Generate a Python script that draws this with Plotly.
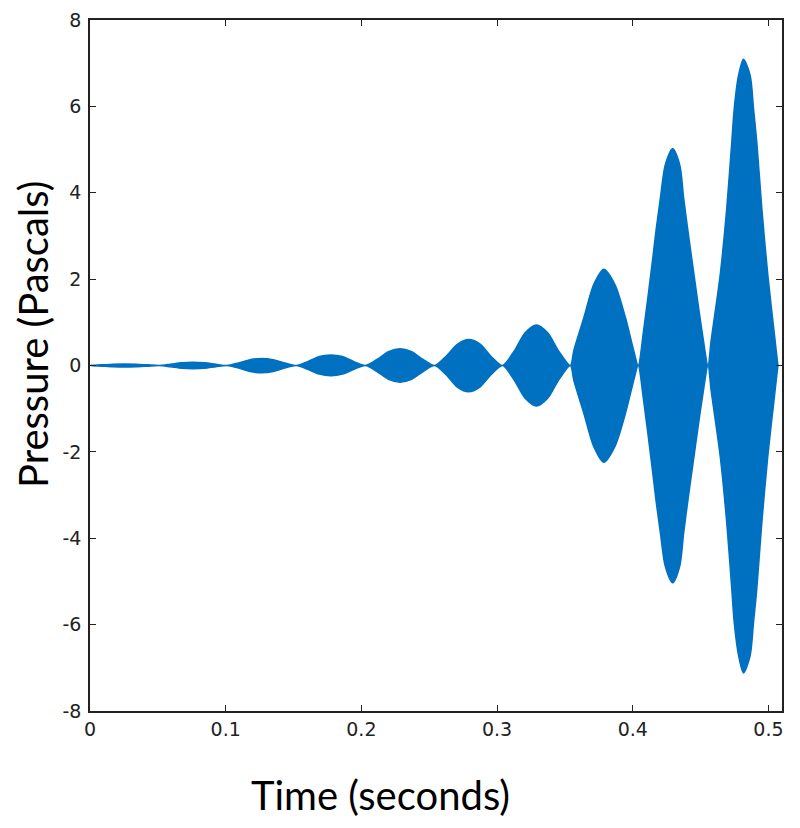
import plotly.graph_objects as go

# envelope of the pressure signal (time in s, pressure in Pa)
env_time = [
    0.000, 0.0085, 0.017, 0.0255, 0.034, 0.0425,
    0.051, 0.0593, 0.0677, 0.076, 0.0843, 0.0927,
    0.101, 0.1095, 0.118, 0.1265, 0.135, 0.1435,
    0.152, 0.1605, 0.169, 0.1775, 0.186, 0.1945,
    0.203, 0.2115, 0.220, 0.2285, 0.237, 0.2455,
    0.254, 0.2623, 0.2707, 0.279, 0.2873, 0.2957,
    0.304, 0.3123, 0.3207, 0.329, 0.3373, 0.3457,
    0.354, 0.3566, 0.364, 0.3713, 0.3787, 0.3868, 0.3946, 0.4007,
    0.404, 0.408, 0.4142, 0.4171, 0.4204, 0.424, 0.4294, 0.4346, 0.4375, 0.4407, 0.4441, 0.451,
    0.4555, 0.4578, 0.4645, 0.4693, 0.473, 0.4748, 0.478, 0.4816, 0.4865, 0.489, 0.4914, 0.4951, 0.4995, 0.5049,
    0.507,
]
env_upper = [
    0.0, 0.015, 0.03, 0.035, 0.03, 0.015,
    0.0, 0.03, 0.065, 0.075, 0.065, 0.03,
    0.0, 0.06, 0.135, 0.16, 0.135, 0.06,
    0.0, 0.09, 0.21, 0.245, 0.21, 0.09,
    0.0, 0.14, 0.32, 0.385, 0.32, 0.14,
    0.0, 0.21, 0.49, 0.60, 0.50, 0.21,
    0.0, 0.32, 0.76, 0.94, 0.76, 0.32,
    0.0, 0.35, 1.11, 1.88, 2.23, 1.88, 1.11, 0.35,
    0.0, 0.81, 2.34, 3.11, 3.88, 4.65, 5.02, 4.65, 3.88, 3.11, 2.34, 0.81,
    0.0, 0.58, 2.11, 3.65, 5.18, 5.95, 6.72, 7.09, 6.72, 5.95, 5.18, 3.65, 2.11, 0.58,
    0.0,
]
env_lower = [
    0.0, -0.015, -0.03, -0.035, -0.03, -0.015,
    0.0, -0.03, -0.065, -0.075, -0.065, -0.03,
    0.0, -0.06, -0.14, -0.17, -0.14, -0.06,
    0.0, -0.09, -0.20, -0.235, -0.20, -0.09,
    0.0, -0.14, -0.32, -0.385, -0.32, -0.14,
    0.0, -0.21, -0.50, -0.61, -0.50, -0.21,
    0.0, -0.32, -0.76, -0.94, -0.76, -0.32,
    0.0, -0.35, -1.11, -1.88, -2.24, -1.88, -1.11, -0.35,
    0.0, -0.81, -2.34, -3.11, -3.88, -4.65, -5.03, -4.65, -3.88, -3.11, -2.34, -0.81,
    0.0, -0.58, -2.11, -3.65, -5.18, -5.95, -6.72, -7.12, -6.72, -5.95, -5.18, -3.65, -2.11, -0.58,
    0.0,
]

x_ticks = [0, 0.1, 0.2, 0.3, 0.4, 0.5]
x_ticktext = ['0', '0.1', '0.2', '0.3', '0.4', '0.5']
y_ticks = [-8, -6, -4, -2, 0, 2, 4, 6, 8]
y_ticktext = ['-8', '-6', '-4', '-2', '0', '2', '4', '6', '8']

blue = '#0070c0'

fig = go.Figure()
# closed outline: upper envelope left->right, lower envelope back right->left
fig.add_trace(go.Scatter(
    x=env_time + env_time[::-1],
    y=env_upper + env_lower[::-1],
    fill='toself',
    fillcolor=blue,
    mode='lines',
    line=dict(color=blue, width=1.5, shape='spline', smoothing=0.8),
    hoverinfo='skip',
    showlegend=False,
))

axis_common = dict(
    showline=True,
    linecolor='#222',
    linewidth=1.5,
    mirror='ticks',
    ticks='inside',
    ticklen=6,
    tickwidth=1,
    tickcolor='#222',
    showgrid=False,
    zeroline=False,
    automargin=False,
    tickfont=dict(family='DejaVu Sans', size=19, color='#222'),
)

fig.update_xaxes(range=[0, 0.51], tickvals=x_ticks, ticktext=x_ticktext, **axis_common)
fig.update_yaxes(range=[-8, 8], tickvals=y_ticks, ticktext=y_ticktext, ticklabelstandoff=3, **axis_common)

# axis titles as annotations so they sit where the original has them
title_font = dict(family='Lato', size=40, color='black')
fig.add_annotation(text='Time (seconds)', xref='paper', yref='paper', x=0.4205, y=-0.1216,
                   xanchor='center', yanchor='middle', showarrow=False, font=title_font)
fig.add_annotation(text='Pressure (Pascals)', xref='paper', yref='paper', x=-0.0824, y=0.5456,
                   xanchor='center', yanchor='middle', showarrow=False, textangle=-90, font=title_font)

# the page body adds an 8px offset, so margins are shifted to compensate
fig.update_layout(
    width=800,
    height=828,
    margin=dict(l=82, r=26, t=12, b=125),
    paper_bgcolor='white',
    plot_bgcolor='white',
)

fig.write_html("out.html")
